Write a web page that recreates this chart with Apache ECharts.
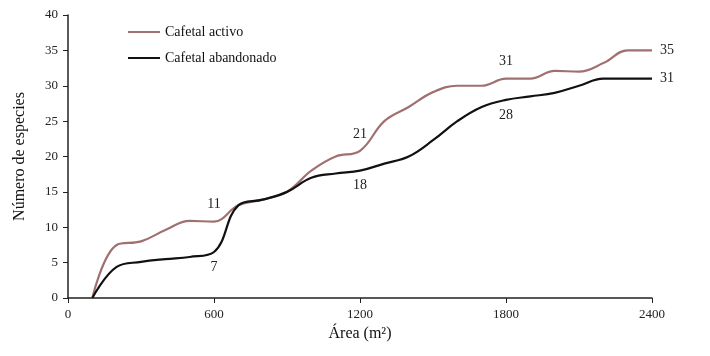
<!DOCTYPE html>
<html>
<head>
<meta charset="utf-8">
<script src="https://cdn.jsdelivr.net/npm/echarts@6/dist/echarts.min.js"></script>
<style>
  html, body { margin: 0; padding: 0; background: #fff; }
  #chart { width: 710px; height: 356px; }
</style>
</head>
<body>
<div id="chart"></div>
<script>
// sampled area (m2) and cumulative species counts
const areas = [100, 200, 300, 400, 500, 600, 700, 800, 900, 1000, 1100, 1200,
  1300, 1400, 1500, 1600, 1700, 1800, 1900, 2000, 2100, 2200, 2300, 2400];
const activo = [0, 7.5, 8, 9.6, 10.9, 10.8, 13.1, 13.9, 15, 18, 20, 20.8,
  25, 27, 29.1, 30, 30, 31, 31, 32.1, 32, 33.2, 35, 35];
const abandonado = [0, 4.4, 5.1, 5.5, 5.8, 6.5, 13.1, 13.9, 15, 17, 17.6, 18,
  19, 20, 22.3, 25, 27, 28, 28.5, 29, 30, 31, 31, 31];
const labelledAreas = [600, 1200, 1800];

const font = "'Liberation Serif', 'Times New Roman', serif";

const buildData = (values, side) =>
  areas.map((a, i) => {
    const item = { value: [a, values[i]] };
    if (labelledAreas.includes(a)) {
      item.label = { show: true, position: side, distance: side === "top" ? 10 : 8 };
    } else if (i === areas.length - 1) {
      item.label = { show: true, position: "right", distance: 8 };
    }
    return item;
  });

const chart = echarts.init(document.getElementById("chart"));
chart.setOption({
  animation: false,
  textStyle: { fontFamily: font },
  grid: { left: 68, right: 58, top: 15, bottom: 58 },
  legend: {
    orient: "vertical",
    left: 123,
    top: 20,
    icon: "rect",
    itemWidth: 32,
    itemHeight: 2,
    itemGap: 12,
    textStyle: { fontFamily: font, fontSize: 14, color: "#111" },
    data: ["Cafetal activo", "Cafetal abandonado"],
  },
  xAxis: {
    type: "value",
    min: 0,
    max: 2400,
    interval: 600,
    name: "Área (m²)",
    nameLocation: "middle",
    nameGap: 27,
    nameTextStyle: { fontFamily: font, fontSize: 16, color: "#111" },
    axisLine: { lineStyle: { color: "#222", width: 1.5 } },
    axisTick: { show: true, length: 5, lineStyle: { color: "#222" } },
    axisLabel: {
      fontFamily: font, fontSize: 13, color: "#222", margin: 10,
      formatter: (v) => String(v),
    },
    splitLine: { show: false },
  },
  yAxis: {
    type: "value",
    min: 0,
    max: 40,
    interval: 5,
    name: "Número de especies",
    nameLocation: "middle",
    nameGap: 40,
    nameTextStyle: { fontFamily: font, fontSize: 16, color: "#111" },
    axisLine: { show: true, lineStyle: { color: "#222", width: 1.5 } },
    axisTick: { show: true, length: 5, lineStyle: { color: "#222" } },
    axisLabel: { fontFamily: font, fontSize: 13, color: "#222", margin: 10 },
    splitLine: { show: false },
  },
  series: [
    {
      name: "Cafetal activo",
      type: "line",
      smooth: 0.4,
      symbol: "circle",
      symbolSize: 0,
      showSymbol: true,
      lineStyle: { color: "#a07070", width: 2.2 },
      itemStyle: { color: "#a07070" },
      label: {
        fontFamily: font, fontSize: 14, color: "#222",
        formatter: (p) => Math.round(p.value[1]),
      },
      data: buildData(activo, "top"),
    },
    {
      name: "Cafetal abandonado",
      type: "line",
      smooth: 0.4,
      symbol: "circle",
      symbolSize: 0,
      showSymbol: true,
      lineStyle: { color: "#111", width: 2.2 },
      itemStyle: { color: "#111" },
      label: {
        fontFamily: font, fontSize: 14, color: "#222",
        formatter: (p) => Math.round(p.value[1]),
      },
      data: buildData(abandonado, "bottom"),
    },
  ],
});
</script>
</body>
</html>
